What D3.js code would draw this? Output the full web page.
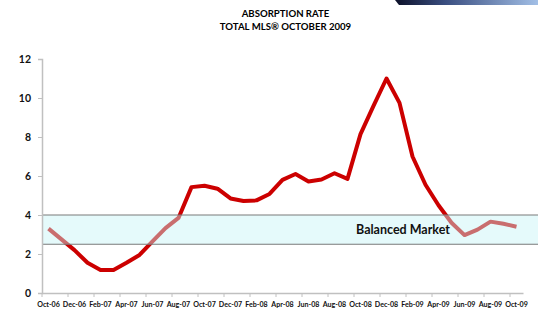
<!DOCTYPE html>
<html><head><meta charset="utf-8">
<script src="https://cdn.jsdelivr.net/npm/d3@7"></script>
<style>html,body{margin:0;padding:0;background:#fff;}svg{display:block;}</style>
</head><body>
<svg id="c" width="538" height="309"></svg>
<script>
const months = ["Oct-06","Nov-06","Dec-06","Jan-07","Feb-07","Mar-07","Apr-07","May-07","Jun-07","Jul-07","Aug-07","Sep-07",
"Oct-07","Nov-07","Dec-07","Jan-08","Feb-08","Mar-08","Apr-08","May-08","Jun-08","Jul-08","Aug-08","Sep-08",
"Oct-08","Nov-08","Dec-08","Jan-09","Feb-09","Mar-09","Apr-09","May-09","Jun-09","Jul-09","Aug-09","Sep-09","Oct-09"];
const absorption = [3.3,2.75,2.2,1.55,1.18,1.18,1.55,1.95,2.65,3.33,3.85,5.43,
5.5,5.35,4.85,4.72,4.75,5.08,5.8,6.1,5.72,5.82,6.14,5.85,
8.15,9.6,11.0,9.75,7.0,5.55,4.5,3.6,2.97,3.25,3.66,3.55,3.4];
const xLabels = ["Oct-06","Dec-06","Feb-07","Apr-07","Jun-07","Aug-07","Oct-07","Dec-07","Feb-08","Apr-08","Jun-08","Aug-08","Oct-08","Dec-08","Feb-09","Apr-09","Jun-09","Aug-09","Oct-09"];
const yTicks = [0,2,4,6,8,10,12];
const balancedRange = [2.5, 4];
const balancedLabel = "Balanced Market";
const titleLines = ["ABSORPTION RATE","TOTAL MLS\u00AE OCTOBER 2009"];

const svg = d3.select("#c");
const FONT = "Lato, 'Open Sans', sans-serif";

// banner gradient
const defs = svg.append("defs");
const g1 = defs.append("linearGradient").attr("id","ban").attr("x1","0").attr("x2","1").attr("y1","0").attr("y2","0");
g1.append("stop").attr("offset","0%").attr("stop-color","#0c1028");
g1.append("stop").attr("offset","35%").attr("stop-color","#3a4e80");
g1.append("stop").attr("offset","100%").attr("stop-color","#a2bfe6");
svg.append("path").attr("d","M395,0 L538,0 L538,5 L399,5 Z").attr("fill","url(#ban)");

// title
svg.append("g").selectAll("text").data(titleLines).join("text")
  .attr("x",285.5).attr("y",(d,i)=>16.5+i*13.3)
  .attr("text-anchor","middle").attr("font-family",FONT).attr("font-weight","bold")
  .attr("font-size","9.6px").attr("fill","#000").text(d=>d);

const x = d3.scaleBand().domain(months).range([42,523]).padding(0);
const y = d3.scaleLinear().domain([0,12]).range([293,59]);

// line
const line = d3.line().x((d,i)=>x(months[i])+x.bandwidth()/2).y(d=>y(d));
svg.append("path").datum(absorption).attr("d",line)
  .attr("fill","none").attr("stroke","#cc0000").attr("stroke-width",4)
  .attr("stroke-linejoin","round").attr("stroke-linecap","butt");

// balanced band (drawn over line, semi-transparent)
svg.append("rect").attr("x",42).attr("width",538-42)
  .attr("y",y(balancedRange[1])).attr("height",y(balancedRange[0])-y(balancedRange[1]))
  .attr("fill","#c6f4f6").attr("fill-opacity",0.45);
[balancedRange[0],balancedRange[1]].forEach(v=>{
  svg.append("line").attr("x1",42).attr("x2",538).attr("y1",y(v)).attr("y2",y(v))
    .attr("stroke","#7a7a7a").attr("stroke-width",1.2);
});
svg.append("text").attr("x",356).attr("y",y((balancedRange[0]+balancedRange[1])/2)+4.5)
  .attr("font-family",FONT).attr("font-weight","bold").attr("font-size","12.5px").attr("fill","#111")
  .text(balancedLabel);

// y axis
const ya = svg.append("g").attr("transform","translate(42,0)")
  .call(d3.axisLeft(y).tickValues(yTicks).tickSize(4).tickPadding(7).tickFormat(d3.format("d")));
ya.select(".domain").attr("stroke","#c0c0c0").attr("stroke-width",1.5);
ya.selectAll(".tick line").attr("stroke","#c0c0c0");
ya.selectAll("text").attr("font-family",FONT).attr("font-weight","bold").attr("font-size","10.5px").attr("fill","#111");

// x axis
const xa = svg.append("g").attr("transform","translate(0,293)")
  .call(d3.axisBottom(x).tickValues(xLabels).tickSize(0).tickPadding(9).tickSizeOuter(0));
xa.select(".domain").attr("stroke","#c0c0c0").attr("stroke-width",1.5);
xa.selectAll("text").attr("font-family",FONT).attr("font-weight","bold").attr("font-size","7.1px").attr("fill","#111");
xa.selectAll(".tickmark").data(xLabels).join("line").attr("class","tickmark")
  .attr("x1",d=>x(d)).attr("x2",d=>x(d)).attr("y1",0).attr("y2",4)
  .attr("stroke","#c0c0c0");
</script>
</body></html>
